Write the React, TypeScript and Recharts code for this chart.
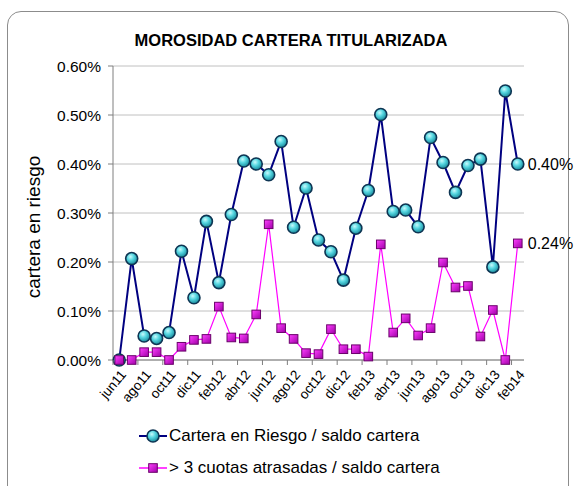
import React from 'react';
import { LineChart, Line, XAxis, YAxis, CartesianGrid, LabelList } from 'recharts';

const months = ['jun11','jul11','ago11','sep11','oct11','nov11','dic11','ene12','feb12','mar12','abr12','may12','jun12','jul12','ago12','sep12','oct12','nov12','dic12','ene13','feb13','mar13','abr13','may13','jun13','jul13','ago13','sep13','oct13','nov13','dic13','ene14','feb14'];
const riesgo = [0.000,0.207,0.049,0.044,0.056,0.222,0.127,0.283,0.158,0.297,0.406,0.400,0.378,0.446,0.271,0.351,0.245,0.221,0.163,0.269,0.346,0.501,0.303,0.306,0.272,0.454,0.403,0.342,0.397,0.410,0.190,0.549,0.400];
const cuotas = [0,0,0.016,0.016,0,0.027,0.041,0.043,0.109,0.046,0.044,0.093,0.277,0.065,0.043,0.014,0.012,0.063,0.022,0.022,0.007,0.236,0.056,0.085,0.050,0.065,0.199,0.148,0.151,0.048,0.102,0,0.238];
const yTicks = [0, 0.1, 0.2, 0.3, 0.4, 0.5, 0.6];
const title = 'MOROSIDAD CARTERA TITULARIZADA';
const yLabel = 'cartera en riesgo';
const name1 = 'Cartera en Riesgo / saldo cartera';
const name2 = '> 3 cuotas atrasadas / saldo cartera';

const data = months.map((m, i) => ({ m, riesgo: riesgo[i], cuotas: cuotas[i] }));

const W = 576;
const H = 486;
const M = { top: 66, right: 52, left: 0, bottom: 0 };
const Y_W = 113;
const X_H = 126;
const PLOT_W = W - M.left - M.right - Y_W;
const BAND = PLOT_W / months.length;
const FONT = 'Arial, "Liberation Sans", Helvetica, sans-serif';

const fmt = (v: number) => v.toFixed(2) + '%';

function XTick(props: any) {
  const { x, y, payload } = props;
  const bx = x - BAND / 2;
  return (
    <g>
      <line x1={bx} x2={bx} y1={y} y2={y + 5} stroke="#7f7f7f" strokeWidth={1} />
      <text x={x + 4} y={y + 12} textAnchor="end" fontSize={13.5} fontFamily={FONT} fill="#000"
        transform={`rotate(-50, ${x + 4}, ${y + 12})`} dy="0.35em">{payload.value}</text>
    </g>
  );
}

function YLab(props: any) {
  const vb = props.viewBox || { x: 0, y: 66, height: 294 };
  const cx = vb.x + 33;
  const cy = vb.y + vb.height / 2 + 14;
  return (
    <text x={cx} y={cy} textAnchor="middle" dominantBaseline="central" fontSize={19} fontFamily={FONT} fill="#000"
      transform={`rotate(-90, ${cx}, ${cy})`}>{yLabel}</text>
  );
}

function lastLabel(props: any) {
  const { x, y, value, index } = props;
  if (index !== months.length - 1) return null;
  return (
    <text x={x + 10} y={y} dominantBaseline="central" fontSize={16} fontFamily={FONT} fill="#000">{fmt(value)}</text>
  );
}

function SquareDot(props: any) {
  const { cx, cy, index } = props;
  if (cx == null || cy == null) return null;
  return <rect key={'sq' + index} x={cx - 4.3} y={cy - 4.3} width={8.6} height={8.6} fill="url(#gradPink)" stroke="#6a006a" strokeWidth={1} />;
}

function CircleDot(props: any) {
  const { cx, cy, index } = props;
  if (cx == null || cy == null) return null;
  return <circle key={'c' + index} cx={cx} cy={cy} r={6} fill="url(#gradBlue)" stroke="#0e3553" strokeWidth={1.6} />;
}

export default function App() {
  return (
    <div style={{ position: 'absolute', left: 0, top: 0, width: W, height: H, overflow: 'hidden', background: '#fff', fontFamily: FONT }}>
      <svg width={0} height={0} style={{ position: 'absolute' }}>
        <defs>
          <radialGradient id="gradBlue" cx="40%" cy="35%" r="65%">
            <stop offset="0%" stopColor="#c8fafc" />
            <stop offset="45%" stopColor="#55d6e0" />
            <stop offset="100%" stopColor="#1a8a9c" />
          </radialGradient>
          <linearGradient id="gradPink" x1="0" y1="0" x2="1" y2="1">
            <stop offset="0%" stopColor="#ff40ff" />
            <stop offset="100%" stopColor="#a000a8" />
          </linearGradient>
        </defs>
      </svg>
      <div style={{ position: 'absolute', left: 7, top: 11, width: 562, height: 500, border: '1px solid #8c8c8c', borderRadius: 14, boxSizing: 'border-box' }} />
      <div style={{ position: 'absolute', left: 3, top: 30, width: W, textAlign: 'center', fontWeight: 'bold', fontSize: 16.5, lineHeight: '20px', color: '#000' }}>{title}</div>
      <div style={{ position: 'absolute', left: 0, top: 0 }}>
        <LineChart width={W} height={H} data={data} margin={M}>
          <CartesianGrid vertical={false} stroke="#c0c0c0" strokeWidth={1} />
          <XAxis dataKey="m" height={X_H} interval={1} tickLine={false} tickSize={0} tickMargin={0}
            padding={{ left: BAND / 2, right: BAND / 2 }} axisLine={{ stroke: '#7f7f7f' }} tick={<XTick />} />
          <YAxis width={Y_W} domain={[0, 0.6]} ticks={yTicks} tickFormatter={fmt} tickSize={5} tickMargin={7}
            axisLine={{ stroke: '#7f7f7f' }} tickLine={{ stroke: '#7f7f7f' }}
            tick={{ fontSize: 15.5, fill: '#000', fontFamily: FONT }} label={<YLab />} />
          <Line dataKey="riesgo" name={name1} stroke="#000080" strokeWidth={2} dot={<CircleDot />} isAnimationActive={false}>
            <LabelList dataKey="riesgo" content={lastLabel} />
          </Line>
          <Line dataKey="cuotas" name={name2} stroke="#ff00ff" strokeWidth={1.2} dot={<SquareDot />} isAnimationActive={false}>
            <LabelList dataKey="cuotas" content={lastLabel} />
          </Line>
        </LineChart>
      </div>
      <div style={{ position: 'absolute', left: 139, top: 424, fontSize: 17, lineHeight: '24px', color: '#000' }}>
        <div style={{ display: 'flex', alignItems: 'center', height: 24 }}>
          <svg width={30} height={16} style={{ display: 'block' }}>
            <line x1={0} x2={28} y1={8} y2={8} stroke="#000080" strokeWidth={2} />
            <circle cx={14} cy={8} r={6} fill="url(#gradBlue)" stroke="#0e3553" strokeWidth={1.6} />
          </svg>
          <span>{name1}</span>
        </div>
        <div style={{ display: 'flex', alignItems: 'center', height: 24, marginTop: 8 }}>
          <svg width={30} height={16} style={{ display: 'block' }}>
            <line x1={0} x2={28} y1={8} y2={8} stroke="#ff00ff" strokeWidth={1.5} />
            <rect x={9.7} y={3.7} width={8.6} height={8.6} fill="url(#gradPink)" stroke="#6a006a" strokeWidth={1} />
          </svg>
          <span>{name2}</span>
        </div>
      </div>
    </div>
  );
}
